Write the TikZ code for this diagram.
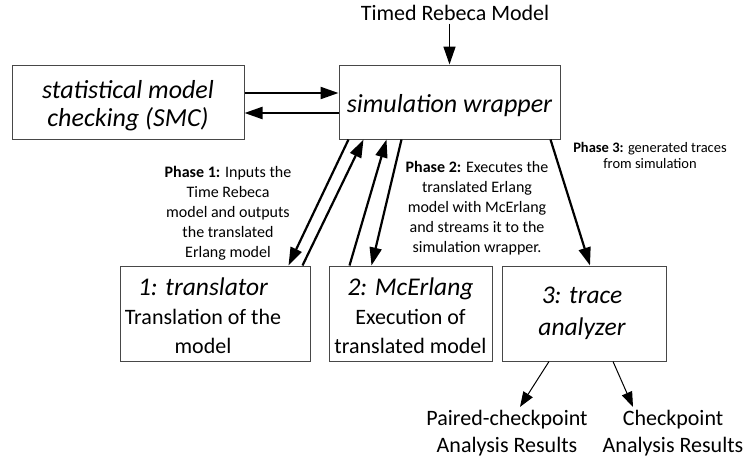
\documentclass[tikz,border=0pt]{standalone}
\usepackage{fontspec}
\setmainfont{Carlito}
\usetikzlibrary{arrows.meta,calc}
\begin{document}
\begin{tikzpicture}[x=1pt,y=-1pt,
  box/.style={draw=black!72,line width=1pt,inner sep=0pt},
  btxt/.style={inner sep=0pt,align=center,font=\fontsize{22}{29}\selectfont},
  ttl/.style={inner sep=0pt,align=center,font=\fontsize{26}{28}\selectfont\itshape},
  arr/.style={-{Triangle[length=18pt,width=12pt]},line width=2.2pt},
  thinarr/.style={-{Triangle[length=15pt,width=11pt]},line width=1pt},
  phase/.style={align=center,inner sep=0pt,font=\fontsize{16}{20}\selectfont},
  lab/.style={align=center,inner sep=0pt,font=\fontsize{22}{27}\selectfont}]
\useasboundingbox (0,0) rectangle (746,458);

\node[inner sep=0pt,font=\fontsize{22}{24}\selectfont] (model) at (455,13) {Timed Rebeca Model};

% boxes
\node[box,minimum width=232pt,minimum height=74pt] (smc) at (128,102) {};
\node[box,minimum width=221pt,minimum height=74pt] (wrap) at (449.5,102) {};
\node[box,minimum width=190pt,minimum height=95pt] (tr) at (215,313.5) {};
\node[box,minimum width=163pt,minimum height=95pt] (mc) at (410.5,313.5) {};
\node[box,minimum width=164pt,minimum height=95pt] (ta) at (584,313.5) {};

% box texts
\node[ttl] (smct) at ($(smc)+(0,4)$) {statistical model\\checking (SMC)};
\node[ttl] (wrapt) at ($(wrap)+(0,4)$) {simulation wrapper};
\node[btxt] (trt) at ($(tr)+(-12,2)$) {{\fontsize{25.5}{29}\selectfont\itshape 1: translator}\\Translation of the\\model};
\node[btxt] (mct) at ($(mc)+(0,2)$) {{\fontsize{25.5}{29}\selectfont\itshape 2: McErlang}\\Execution of\\translated model};
\node[ttl,font=\fontsize{25.5}{32}\selectfont\itshape] (tat) at ($(ta)+(-2,0)$) {3: trace\\analyzer};

% phase texts
\node[phase] (p1) at (228,213) {\textbf{Phase 1:} Inputs the\\Time Rebeca\\model and outputs\\the translated\\Erlang model};
\node[phase] (p2) at (477,208) {\textbf{Phase 2:} Executes the\\translated Erlang\\model with McErlang\\and streams it to the\\simulation wrapper.};
\node[phase,font=\fontsize{14.5}{16}\selectfont] (p3) at (650,155) {\textbf{Phase 3:} generated traces\\from simulation};

% results
\node[lab] (pc) at (507,433) {Paired-checkpoint\\Analysis Results};
\node[lab] (cp) at (673,433) {Checkpoint\\Analysis Results};

% top input
\draw[-{Triangle[length=18pt,width=12pt]},line width=1.6pt] ($(wrap.north)+(0,-41)$) -- (wrap.north);

% SMC <-> wrapper
\draw[arr] ($(smc.east)+(0,-9)$) -- ($(wrap.west)+(0,-9)$);
\draw[arr] ($(wrap.west)+(0,11)$) -- ($(smc.east)+(0,11)$);

% phase 1
\draw[arr] ($(wrap.south west)+(10,0)$) -- ($(tr.north east)+(-22,0)$);
\draw[arr] ($(tr.north east)+(-8,0)$) -- ($(wrap.south west)+(25,0)$);
% phase 2
\draw[arr] ($(mc.north west)+(21,0)$) -- ($(wrap.south west)+(48,0)$);
\draw[arr] ($(wrap.south west)+(63,0)$) -- ($(mc.north west)+(43,0)$);
% phase 3
\draw[arr] ($(wrap.south east)+(-10,0)$) -- ($(ta.north)+(6,0)$);

% results arrows
\draw[thinarr] ($(ta.south)+(-35,0)$) -- ($(pc.north)+(13,-3)$);
\draw[thinarr] ($(ta.south)+(29,0)$) -- ($(cp.north)+(-40,-3)$);
\end{tikzpicture}
\end{document}
